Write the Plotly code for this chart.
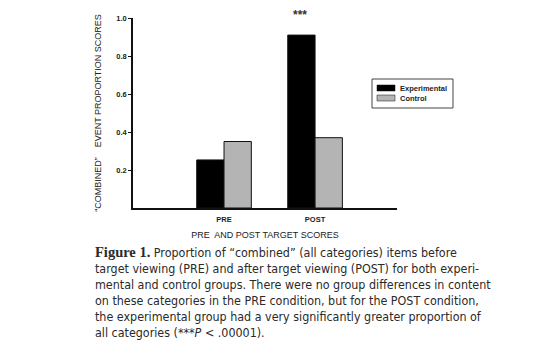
import plotly.graph_objects as go

categories = ["PRE", "POST"]
series_names = ["Experimental", "Control"]
experimental = [0.253, 0.91]
control = [0.35, 0.37]
ytick_vals = [0.2, 0.4, 0.6, 0.8, 1.0]
ytick_text = ["0.2", "0.4", "0.6", "0.8", "1.0"]
caption_lines = [
    "<span style='font-family:Liberation Serif;font-size:14.5px'><b>Figure 1.</b></span> Proportion of “combined” (all categories) items before",
    "target viewing (PRE) and after target viewing (POST) for both experi-",
    "mental and control groups. There were no group differences in content",
    "on these categories in the PRE condition, but for the POST condition,",
    "the experimental group had a very significantly greater proportion of",
    "all categories (***<i>P</i> &lt; .00001).",
]

W, H = 550, 352
L, R, T, B = 133, 397, 18, 208

def px(x):
    return (x - L) / (R - L)

def py(y):
    return (B - y) / (B - T)

colors = ["#000000", "#b4b4b4"]

fig = go.Figure()
for name, vals, c in zip(series_names, [experimental, control], colors):
    fig.add_trace(go.Bar(x=categories, y=vals, name=name, marker=dict(color=c, line=dict(color="#111", width=1)),
                         showlegend=False))

fig.add_annotation(x="POST", y=1.0, xref="x", yref="y", text="<b>***</b>", showarrow=False,
                   xshift=-15, yanchor="middle", yshift=3, font=dict(size=12, color="#333", family="Liberation Sans"))

# manual legend
fig.add_shape(type="rect", xref="paper", yref="paper", x0=px(372), x1=px(453), y0=py(79), y1=py(108),
              line=dict(color="#444", width=1), fillcolor="white")
for i, (name, c) in enumerate(zip(series_names, colors)):
    yc = 88 + i * 10
    fig.add_shape(type="rect", xref="paper", yref="paper", x0=px(377), x1=px(395), y0=py(yc - 3), y1=py(yc + 3),
                  line=dict(color="#111", width=0.5), fillcolor=c)
    fig.add_annotation(x=px(398), y=py(yc), xref="paper", yref="paper", text=f"<b>{name}</b>", showarrow=False,
                       xanchor="left", yanchor="middle", font=dict(size=7.5, color="#222", family="Liberation Sans"))

font_family = "DejaVu Sans Condensed"
for i, line in enumerate(caption_lines):
    fig.add_annotation(x=px(93), y=py(252 + i * 16.1), xref="paper", yref="paper", text=line, showarrow=False,
                       xanchor="left", yanchor="middle", align="left",
                       font=dict(size=12.4, color="#2a2a2a", family=font_family))

fig.update_layout(
    width=W, height=H,
    margin=dict(l=L, r=W - R, t=T, b=H - B),
    paper_bgcolor="white", plot_bgcolor="white",
    barmode="group", bargap=0.4, bargroupgap=0,
    font=dict(family="Liberation Sans", color="#222"),
    xaxis=dict(range=[-1.0, 1.9], showline=True, linecolor="#111", linewidth=1.5, showgrid=False,
               ticks="", tickfont=dict(size=7.5, color="#222"), ticklabelstandoff=3,
               tickprefix="<b>", ticksuffix="</b>",
               title=dict(text="PRE  AND POST TARGET SCORES", font=dict(size=9, color="#222"), standoff=9)),
    yaxis=dict(range=[0, 1.0], showline=True, linecolor="#111", linewidth=1.5, showgrid=False, zeroline=False,
               tickvals=ytick_vals, ticktext=[f"<b>{t}</b>" for t in ytick_text], ticks="outside", ticklen=3,
               tickcolor="#111", tickfont=dict(size=7.5, color="#222"),
               title=dict(text="“COMBINED”    EVENT PROPORTION SCORES", font=dict(size=9, color="#222"), standoff=13)),
)

fig.write_html("out.html")
